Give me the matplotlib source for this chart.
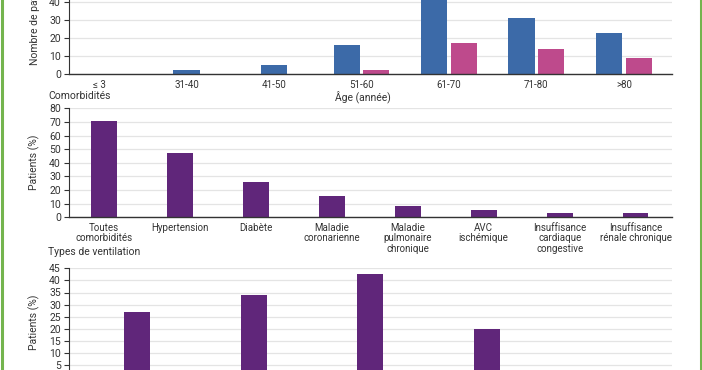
import matplotlib
matplotlib.use("Agg")
import matplotlib.pyplot as plt
from matplotlib.lines import Line2D

plt.rcParams['font.family'] = ['Roboto', 'DejaVu Sans']
plt.rcParams['font.size'] = 7

# ---- data ----
age_groups = ["\u2264 3", "31-40", "41-50", "51-60", "61-70", "71-80", ">80"]
age_blue = [0, 2, 5, 16, 43, 31, 23]
age_pink = [None, None, None, 2, 17, 14, 9]

comorb_labels = ["Toutes\ncomorbidit\u00e9s", "Hypertension", "Diab\u00e8te",
                 "Maladie\ncoronarienne", "Maladie\npulmonaire\nchronique",
                 "AVC\nisch\u00e9mique", "Insuffisance\ncardiaque\ncongestive",
                 "Insuffisance\nr\u00e9nale chronique"]
comorb_values = [71, 47, 26, 16, 8.5, 5, 3, 3]

vent_values = [27, 34, 42.5, 20]

C_BLUE = "#3c6aa8"
C_PINK = "#be4a8c"
C_PURPLE = "#60267a"
C_TEXT = "#333333"
C_GRID = "#e4e4e4"
C_GREEN = "#74b44e"

W, H = 702, 370
fig = plt.figure(figsize=(W / 100, H / 100), dpi=100)
fig.patch.set_facecolor("white")

left_px, right_px = 68.5, 672


def make_axes(y0_px, y1_px):
    b = (H - y0_px) / H
    h = (y0_px - y1_px) / H
    return fig.add_axes([left_px / W, b, (right_px - left_px) / W, h])


def style(ax, yticks):
    ax.set_yticks(yticks)
    ax.yaxis.grid(True, color=C_GRID, lw=0.9)
    ax.set_axisbelow(True)
    for s in ("top", "right"):
        ax.spines[s].set_visible(False)
    ax.spines["left"].set_color(C_TEXT)
    ax.spines["left"].set_linewidth(0.8)
    ax.spines["bottom"].set_color(C_TEXT)
    ax.spines["bottom"].set_linewidth(1.0)
    ax.tick_params(axis="y", length=3.5, width=0.8, color=C_TEXT, pad=2,
                   labelcolor=C_TEXT, labelsize=7.5)
    ax.tick_params(axis="x", length=0, pad=4, labelcolor=C_TEXT, labelsize=7)


# ---- top: age ----
ax1 = make_axes(74, -16)
n = len(age_groups)
bw = 0.30
for i in range(n):
    if age_pink[i] is None:
        ax1.bar(i, age_blue[i], width=bw, color=C_BLUE)
    else:
        ax1.bar(i - bw / 2 - 0.02, age_blue[i], width=bw, color=C_BLUE)
        ax1.bar(i + bw / 2 + 0.02, age_pink[i], width=bw, color=C_PINK)
ax1.set_xticks(range(n))
ax1.set_xticklabels(age_groups)
ax1.set_xlim(-0.35, 6.55)
ax1.set_ylim(0, 50)
style(ax1, range(0, 51, 10))
ax1.set_ylabel("Nombre de patients", color=C_TEXT, fontsize=7.5)
ax1.yaxis.set_label_coords(-0.047, 0.61)
ax1.text(0.488, -0.255, "\u00c2ge (ann\u00e9e)", transform=ax1.transAxes,
         ha="center", va="center", color=C_TEXT, fontsize=7.5)

fig.text(48 / W, 1 - 96 / H, "Comorbidit\u00e9s", ha="left", va="center",
         color=C_TEXT, fontsize=7.5)

# ---- middle: comorbidities ----
ax2 = make_axes(217.3, 108.3)
x2 = range(len(comorb_labels))
ax2.bar(x2, comorb_values, width=0.34, color=C_PURPLE)
ax2.set_xticks(list(x2))
ax2.set_xticklabels(comorb_labels, linespacing=1.05, va="top")
ax2.set_xlim(-0.47, 7.48)
ax2.set_ylim(0, 80)
style(ax2, range(0, 81, 10))
ax2.set_ylabel("Patients (%)", color=C_TEXT, fontsize=7.5)
ax2.yaxis.set_label_coords(-0.047, 0.5)

fig.text(48 / W, 1 - 252 / H, "Types de ventilation", ha="left", va="center",
         color=C_TEXT, fontsize=7.5)

# ---- bottom: ventilation ----
ax3 = make_axes(377.2, 268.3)
x3 = range(len(vent_values))
ax3.bar(x3, vent_values, width=0.22, color=C_PURPLE)
ax3.set_xticks([])
ax3.set_xlim(-0.59, 4.59)
ax3.set_ylim(0, 45)
style(ax3, range(0, 46, 5))
ax3.set_ylabel("Patients (%)", color=C_TEXT, fontsize=7.5)
ax3.yaxis.set_label_coords(-0.047, 0.5)

# ---- green frame lines ----
fig.add_artist(Line2D([1.5 / W, 1.5 / W], [0, 1], transform=fig.transFigure,
                      color=C_GREEN, lw=2.2))
fig.add_artist(Line2D([700.5 / W, 700.5 / W], [0, 1], transform=fig.transFigure,
                      color=C_GREEN, lw=2.2))

fig.savefig("out.png", dpi=100)
